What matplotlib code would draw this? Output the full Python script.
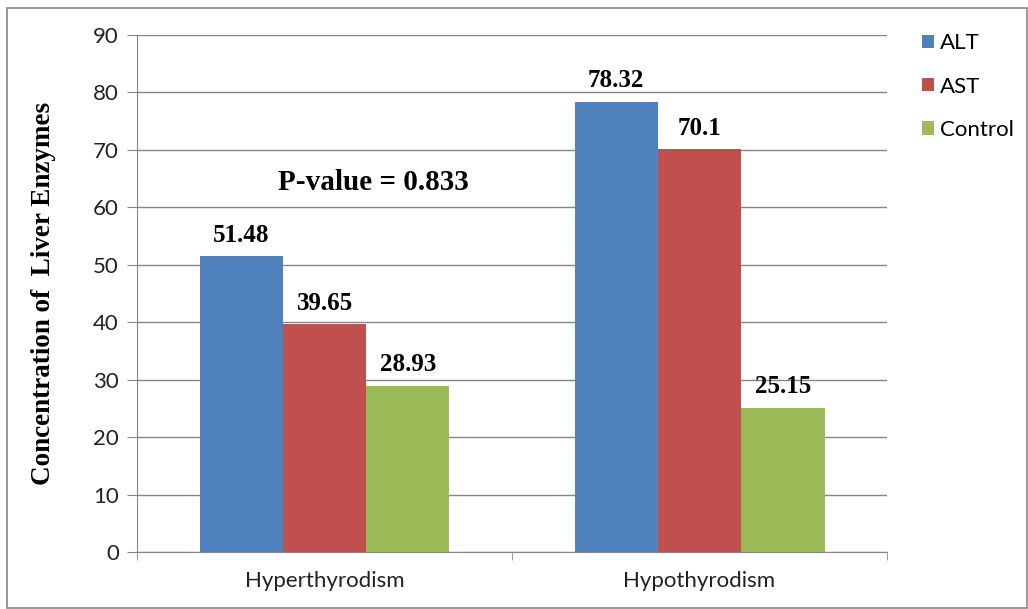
import matplotlib
matplotlib.use("Agg")
import matplotlib.pyplot as plt
from matplotlib.patches import Rectangle
import numpy as np

# data
groups = ["Hyperthyrodism", "Hypothyrodism"]
series = ["ALT", "AST", "Control"]
alt = [51.48, 78.32]
ast = [39.65, 70.1]
control = [28.93, 25.15]
label_text = [["51.48", "78.32"], ["39.65", "70.1"], ["28.93", "25.15"]]
colors = ["#4F81BD", "#C0504D", "#9BBB59"]

sans = "Lato"
serif = "Liberation Serif"

fig = plt.figure(figsize=(10.28, 6.09), dpi=100)
ax = fig.add_axes([137 / 1028, 1 - 552 / 609, 750 / 1028, 517 / 609])

x = np.arange(len(groups))
w = 1 / 4.5
for i, (name, vals) in enumerate(zip(series, [alt, ast, control])):
    pos = x + (i - 1) * w
    ax.bar(pos, vals, width=w, color=colors[i], label=name, zorder=3)
    for p, v, t in zip(pos, vals, label_text[i]):
        ax.annotate(t, (p, v), xytext=(0, 7), textcoords="offset points",
                    ha="center", va="bottom", fontsize=18, fontweight="bold",
                    family=serif)

ax.set_xlim(-0.5, 1.5)
ax.set_ylim(0, 90)
ax.set_yticks(range(0, 91, 10))
ax.yaxis.grid(True, color="#868686", linewidth=1, zorder=0)
ax.set_xticks(x)
ax.set_xticklabels(groups, family=sans, fontsize=16, color="#222222")
ax.set_xticks([-0.5, 0.5, 1.5], minor=True)
ax.tick_params(axis="x", which="major", length=0, pad=14)
ax.tick_params(axis="x", which="minor", length=6, color="#868686")
ax.tick_params(axis="y", length=7, color="#868686", pad=6)
for lab in ax.get_yticklabels():
    lab.set_family(sans)
    lab.set_fontsize(16)
    lab.set_color("#222222")

for s in ["top", "right"]:
    ax.spines[s].set_visible(False)
for s in ["left", "bottom"]:
    ax.spines[s].set_color("#868686")

ax.set_ylabel("Concentration of  Liver Enzymes", family=serif, fontsize=19.5,
              fontweight="bold", labelpad=27)

ax.text(0.13, 64.3, "P-value = 0.833", family=serif, fontsize=21,
        fontweight="bold", ha="center", va="center")

leg = ax.legend(loc="upper left", bbox_to_anchor=(1.02, 1.042), frameon=False,
                prop={"family": sans, "size": 16}, handlelength=0.55,
                handleheight=0.55, labelspacing=1.05, handletextpad=0.25)

fig.patches.append(Rectangle((7 / 1028, 0.002), 1 - 8 / 1028, 1 - 8 / 609 - 0.002,
                             transform=fig.transFigure, fill=False,
                             edgecolor="#868686", linewidth=1.2))

fig.savefig("out.png", dpi=100)
